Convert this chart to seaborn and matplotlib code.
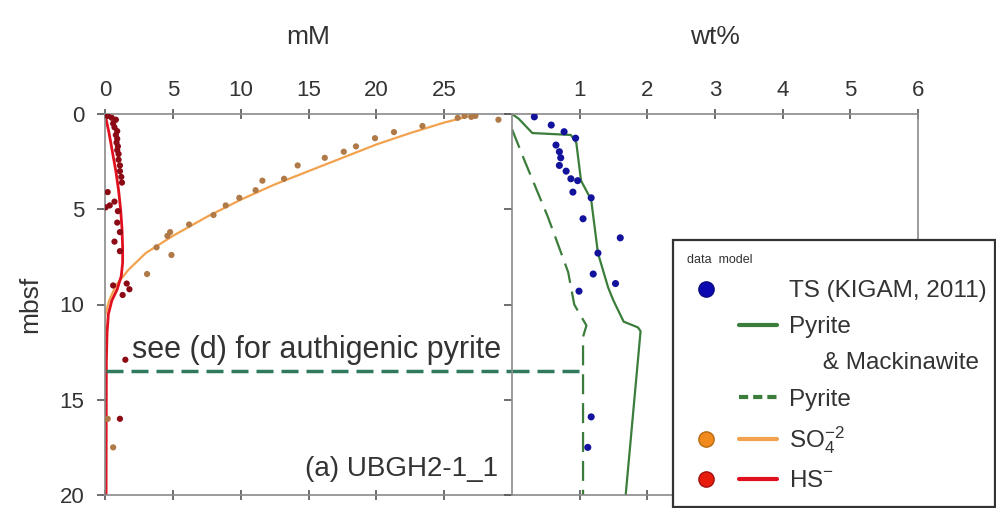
import numpy as np
import pandas as pd
import seaborn as sns
import matplotlib
matplotlib.use("Agg")
import matplotlib.pyplot as plt
from matplotlib.lines import Line2D
from matplotlib.legend_handler import HandlerTuple

# ---------------- data ----------------
# Left panel (mM) : sulfate and sulfide porewater profiles
so4_data_conc = [26.0, 26.5, 27.0, 27.3, 29.0, 23.4, 21.3, 19.9, 18.5, 17.6, 16.2, 14.2, 13.2, 11.6,
                 11.1, 9.9, 8.9, 8.0, 6.2, 4.8, 4.6, 3.8, 4.9, 3.1, 0.2, 0.6]
so4_data_depth = [0.2, 0.1, 0.15, 0.1, 0.3, 0.63, 0.95, 1.27, 1.7, 1.98, 2.3, 2.7, 3.4, 3.5,
                  4.0, 4.4, 4.8, 5.3, 5.8, 6.2, 6.4, 7.0, 7.4, 8.4, 16.0, 17.5]

so4_model_conc = [27.5, 25.0, 22.5, 20.0, 17.5, 15.0, 12.5, 10.0, 7.5, 5.0, 3.0, 1.7, 0.8, 0.3, 0.0, 0.0]
so4_model_depth = [0.0, 0.45, 1.0, 1.6, 2.3, 3.0, 3.7, 4.5, 5.4, 6.4, 7.3, 8.2, 9.0, 9.8, 10.6, 20.0]

hs_data_conc = [0.2, 0.5, 0.8, 0.6, 0.7, 0.9, 0.8, 0.9, 0.85, 0.95, 0.9, 1.0, 1.0, 1.1, 1.1, 1.2, 1.25,
                0.2, 0.35, 0.05, 0.7, 0.95, 0.9, 1.1, 0.7, 1.1, 0.6, 1.6, 1.3, 1.8, 1.5, 1.1]
hs_data_depth = [0.1, 0.2, 0.3, 0.5, 0.7, 0.9, 1.1, 1.3, 1.5, 1.7, 1.9, 2.1, 2.4, 2.7, 3.0, 3.3, 3.6,
                 4.1, 4.8, 4.9, 4.6, 5.1, 5.7, 6.2, 6.7, 7.2, 9.0, 8.9, 9.5, 9.2, 12.9, 16.0]

hs_model_conc = [0.0, 0.3, 0.55, 0.8, 1.0, 1.15, 1.25, 1.3, 1.3, 1.2, 0.9, 0.5, 0.25, 0.15, 0.1, 0.08]
hs_model_depth = [0.0, 1.0, 2.0, 3.0, 4.0, 5.0, 6.0, 7.0, 7.8, 8.5, 9.2, 9.8, 10.5, 11.5, 13.0, 20.0]

# Right panel (wt%) : total sulfur data and pyrite models
ts_data_wt = [0.33, 0.58, 0.77, 0.94, 0.65, 0.70, 0.72, 0.70, 0.80, 0.87, 0.97, 0.90, 1.17, 1.05,
              1.60, 1.27, 1.20, 1.53, 0.99, 1.17, 1.12]
ts_data_depth = [0.15, 0.58, 0.93, 1.27, 1.63, 1.98, 2.3, 2.7, 3.0, 3.4, 3.5, 4.1, 4.4, 5.5,
                 6.5, 7.3, 8.4, 8.9, 9.3, 15.9, 17.5]

pyr_mack_wt = [0.0, 0.1, 0.3, 0.87, 0.95, 1.02, 1.17, 1.27, 1.42, 1.5, 1.65, 1.86, 1.9, 1.68]
pyr_mack_depth = [0.0, 0.25, 1.0, 1.1, 1.5, 3.5, 4.5, 7.3, 9.1, 9.8, 10.9, 11.2, 11.4, 20.0]

pyr_wt = [0.0, 0.18, 0.53, 0.83, 0.92, 1.0, 1.1, 1.05, 1.05]
pyr_depth = [0.8, 2.4, 5.4, 8.3, 10.0, 10.5, 11.1, 11.7, 20.0]

# "see (d)" marker line at 13.5 mbsf
see_depth = 13.5
see_left_conc = [0.1, 30.0]
see_right_wt = [0.0, 1.05]

mM_ticks = [0, 5, 10, 15, 20, 25]
wt_ticks = [1, 2, 3, 4, 5, 6]
depth_ticks = [0, 5, 10, 15, 20]

# ---------------- styling ----------------
sns.set_theme(style="white")
plt.rcParams["font.family"] = ["Liberation Sans", "DejaVu Sans"]
plt.rcParams["mathtext.fontset"] = "custom"
plt.rcParams["mathtext.rm"] = "Liberation Sans"
plt.rcParams["mathtext.it"] = "Liberation Sans"

C_SO4_DATA = "#b07a48"
C_SO4_LINE = "#f2a24e"
C_HS_DATA = "#8b0a14"
C_HS_LINE = "#e0101e"
C_TS = "#12129c"
C_PYR = "#3b7d3b"
C_SEE = "#2f7a5c"
C_SPINE = "#8a8a8a"
C_TEXT = "#333333"

fig = plt.figure(figsize=(9.96, 5.08), dpi=100)
H = 508.0
W = 996.0
ax1 = fig.add_axes([105 / W, 1 - 495 / H, 407 / W, 381 / H])
ax2 = fig.add_axes([512 / W, 1 - 495 / H, 406 / W, 381 / H])

df_so4 = pd.DataFrame({"c": so4_data_conc, "d": so4_data_depth})
df_so4m = pd.DataFrame({"c": so4_model_conc, "d": so4_model_depth})
df_hs = pd.DataFrame({"c": hs_data_conc, "d": hs_data_depth})
df_hsm = pd.DataFrame({"c": hs_model_conc, "d": hs_model_depth})
df_ts = pd.DataFrame({"w": ts_data_wt, "d": ts_data_depth})
df_pm = pd.DataFrame({"w": pyr_mack_wt, "d": pyr_mack_depth})
df_py = pd.DataFrame({"w": pyr_wt, "d": pyr_depth})

# left panel
sns.lineplot(data=df_so4m, x="c", y="d", sort=False, estimator=None, color=C_SO4_LINE, lw=1.6, ax=ax1)
sns.scatterplot(data=df_so4, x="c", y="d", color=C_SO4_DATA, s=20, edgecolor="none", ax=ax1, zorder=3)
sns.lineplot(data=df_hsm, x="c", y="d", sort=False, estimator=None, color=C_HS_LINE, lw=2.0, ax=ax1)
sns.scatterplot(data=df_hs, x="c", y="d", color=C_HS_DATA, s=20, edgecolor="none", ax=ax1, zorder=3)
ax1.plot(see_left_conc, [see_depth, see_depth], color=C_SEE, lw=2.5, ls=(0, (4.9, 2.3)), clip_on=False)

# right panel
sns.lineplot(data=df_pm, x="w", y="d", sort=False, estimator=None, color=C_PYR, lw=1.6, ax=ax2)
sns.lineplot(data=df_py, x="w", y="d", sort=False, estimator=None, color=C_PYR, lw=1.6,
             ax=ax2, linestyle=(0, (9, 4)))
ax2.plot(see_right_wt, [see_depth, see_depth], color=C_SEE, lw=2.5, ls=(0, (4.9, 2.3)))
sns.scatterplot(data=df_ts, x="w", y="d", color=C_TS, s=26, edgecolor="none", ax=ax2, zorder=3)

for ax in (ax1, ax2):
    ax.set_ylim(20, 0)
    ax.set_ylabel("")
    ax.set_xlabel("")
    for sp in ax.spines.values():
        sp.set_color(C_SPINE)
        sp.set_linewidth(1.2)
    ax.xaxis.set_label_position("top")
    ax.tick_params(axis="x", top=True, bottom=True, labeltop=True, labelbottom=False,
                   direction="inout", length=7, width=1.2, color="#555555",
                   labelsize=16, labelcolor=C_TEXT, pad=6)

ax1.set_xlim(0, 30)
ax1.set_xticks(mM_ticks)
ax1.set_yticks(depth_ticks)
ax1.tick_params(axis="y", left=True, direction="out", length=6, width=1.2, color="#555555",
                labelsize=16, labelcolor=C_TEXT, pad=9)
ax1.spines["right"].set_visible(False)
ax1.set_xlabel("mM", fontsize=19, color=C_TEXT, labelpad=26)
ax1.set_ylabel("mbsf", fontsize=19, color=C_TEXT, labelpad=12)

ax2.set_xlim(0, 6)
ax2.set_xticks(wt_ticks)
ax2.set_yticks(depth_ticks)
ax2.tick_params(axis="y", left=True, direction="out", length=6, width=1.2, color="#555555",
                labelleft=False)
ax2.set_xlabel("wt%", fontsize=19, color=C_TEXT, labelpad=26)

ax1.text(2.0, 12.4, "see (d) for authigenic pyrite", fontsize=22, color=C_TEXT,
         ha="left", va="center", clip_on=False)
ax1.text(29.0, 19.0, "(a) UBGH2-1_1", fontsize=20, color=C_TEXT, ha="right", va="baseline")

# legend
blank = Line2D([], [], linestyle="none")
h_ts = (Line2D([], [], ls="none", marker="o", ms=11, mfc="#0a0ab0", mec="#0a0a80"), blank)
h_pm = (blank, Line2D([], [], color=C_PYR, lw=3))
h_mk = (blank, blank)
h_py = (blank, Line2D([], [], color=C_PYR, lw=3, ls=(0, (2.2, 1.2))))
h_so4 = (Line2D([], [], ls="none", marker="o", ms=11, mfc="#f08a1c", mec="#b86a10"),
         Line2D([], [], color=C_SO4_LINE, lw=3))
h_hs = (Line2D([], [], ls="none", marker="o", ms=11, mfc="#e81c0c", mec="#a01010"),
        Line2D([], [], color=C_HS_LINE, lw=3))
labels = ["TS (KIGAM, 2011)", "Pyrite", "     & Mackinawite", "Pyrite", "SO$_4^{-2}$", "HS$^{-}$"]
leg = fig.legend([h_ts, h_pm, h_mk, h_py, h_so4, h_hs], labels,
                 handler_map={tuple: HandlerTuple(ndivide=None, pad=0.6)},
                 loc="upper left", bbox_to_anchor=(673 / W, 1 - 505 / H, 322 / W, 265 / H),
                 mode="expand", title="data  model", title_fontsize=9, alignment="left",
                 frameon=True, fancybox=False, framealpha=1, edgecolor="#333333",
                 handlelength=3.7, handletextpad=0.5, labelspacing=0.58, borderpad=0.58,
                 fontsize=17.5, borderaxespad=0)
leg.get_frame().set_linewidth(1.6)
for t in leg.get_texts():
    t.set_color(C_TEXT)
leg.get_title().set_color(C_TEXT)

fig.savefig("out.png", dpi=100)
